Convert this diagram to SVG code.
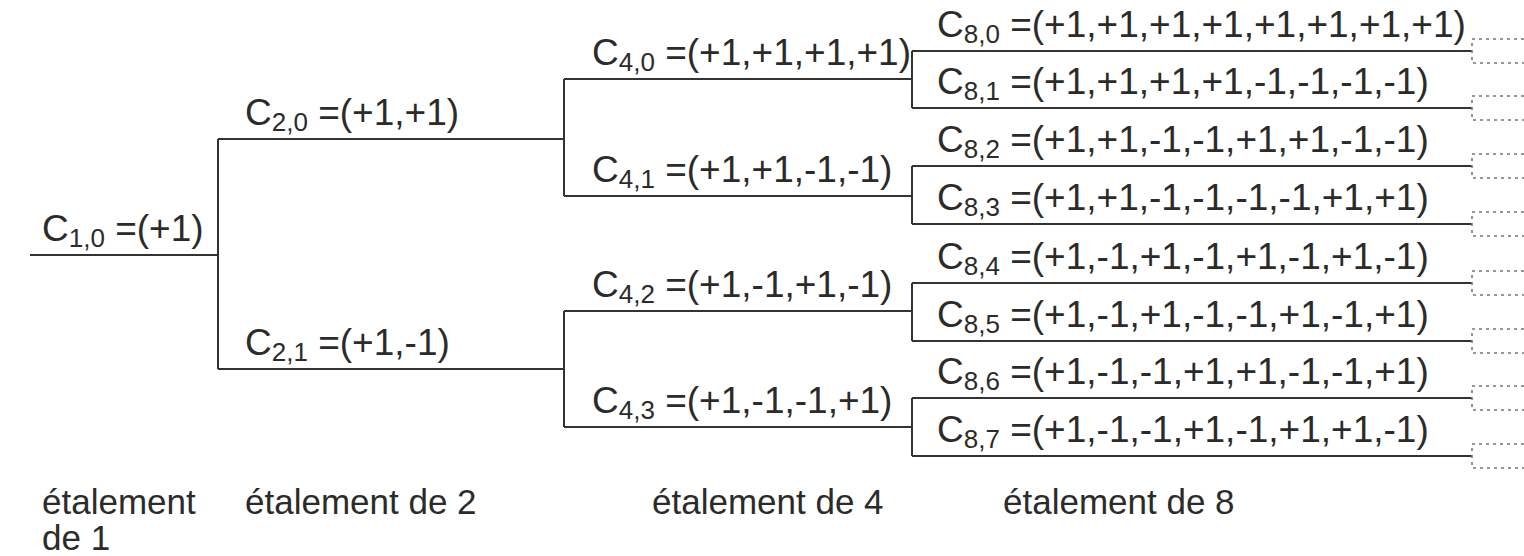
<svg xmlns="http://www.w3.org/2000/svg" width="1524" height="556" viewBox="0 0 1524 556">
<style>
.t{font-family:"Liberation Sans",Arial,sans-serif;font-size:37px;fill:#2b2b2b}
.s{font-size:26px}
.lv{font-family:"Liberation Sans",Arial,sans-serif;font-size:35px;fill:#2b2b2b}
.w{fill:none;stroke:#333;stroke-width:2}
.d{fill:none;stroke:#777;stroke-width:1.6;stroke-dasharray:3 4}
</style>
<rect width="1524" height="556" fill="#fff"/>
<g id="connectors">
<path class="w" d="M30,255H218M218,139V369M218,139H564M218,369H564M564,79V196M564,311V427M564,79H912M564,196H912M564,311H912M564,427H912M912,51V108M912,166V224M912,283V341M912,398V456M912,51H1472M912,108H1472M912,166H1472M912,224H1472M912,283H1472M912,341H1472M912,398H1472M912,456H1472"/>
<path class="d" d="M1524,39H1472V63H1524M1524,96H1472V120H1524M1524,154H1472V178H1524M1524,212H1472V236H1524M1524,271H1472V295H1524M1524,329H1472V353H1524M1524,386H1472V410H1524M1524,444H1472V468H1524"/>
</g>
<g id="c1_0"><text class="t" x="42" y="241">C<tspan class="s" dy="6">1,0</tspan><tspan dy="-6"> =(+1)</tspan></text></g>
<g id="c2_0"><text class="t" x="245" y="125">C<tspan class="s" dy="6">2,0</tspan><tspan dy="-6"> =(+1,+1)</tspan></text></g>
<g id="c2_1"><text class="t" x="245" y="355">C<tspan class="s" dy="6">2,1</tspan><tspan dy="-6"> =(+1,-1)</tspan></text></g>
<g id="c4_0"><text class="t" x="592" y="65">C<tspan class="s" dy="6">4,0</tspan><tspan dy="-6"> =(+1,+1,+1,+1)</tspan></text></g>
<g id="c4_1"><text class="t" x="592" y="182">C<tspan class="s" dy="6">4,1</tspan><tspan dy="-6"> =(+1,+1,-1,-1)</tspan></text></g>
<g id="c4_2"><text class="t" x="592" y="297">C<tspan class="s" dy="6">4,2</tspan><tspan dy="-6"> =(+1,-1,+1,-1)</tspan></text></g>
<g id="c4_3"><text class="t" x="592" y="413">C<tspan class="s" dy="6">4,3</tspan><tspan dy="-6"> =(+1,-1,-1,+1)</tspan></text></g>
<g id="c8_0"><text class="t" x="937" y="37">C<tspan class="s" dy="6">8,0</tspan><tspan dy="-6"> =(+1,+1,+1,+1,+1,+1,+1,+1)</tspan></text></g>
<g id="c8_1"><text class="t" x="937" y="94">C<tspan class="s" dy="6">8,1</tspan><tspan dy="-6"> =(+1,+1,+1,+1,-1,-1,-1,-1)</tspan></text></g>
<g id="c8_2"><text class="t" x="937" y="152">C<tspan class="s" dy="6">8,2</tspan><tspan dy="-6"> =(+1,+1,-1,-1,+1,+1,-1,-1)</tspan></text></g>
<g id="c8_3"><text class="t" x="937" y="210">C<tspan class="s" dy="6">8,3</tspan><tspan dy="-6"> =(+1,+1,-1,-1,-1,-1,+1,+1)</tspan></text></g>
<g id="c8_4"><text class="t" x="937" y="269">C<tspan class="s" dy="6">8,4</tspan><tspan dy="-6"> =(+1,-1,+1,-1,+1,-1,+1,-1)</tspan></text></g>
<g id="c8_5"><text class="t" x="937" y="327">C<tspan class="s" dy="6">8,5</tspan><tspan dy="-6"> =(+1,-1,+1,-1,-1,+1,-1,+1)</tspan></text></g>
<g id="c8_6"><text class="t" x="937" y="384">C<tspan class="s" dy="6">8,6</tspan><tspan dy="-6"> =(+1,-1,-1,+1,+1,-1,-1,+1)</tspan></text></g>
<g id="c8_7"><text class="t" x="937" y="442">C<tspan class="s" dy="6">8,7</tspan><tspan dy="-6"> =(+1,-1,-1,+1,-1,+1,+1,-1)</tspan></text></g>
<g id="levels">
<text class="lv" x="42" y="514">étalement</text>
<text class="lv" x="42" y="550">de 1</text>
<text class="lv" x="245" y="514">étalement de 2</text>
<text class="lv" x="652" y="514">étalement de 4</text>
<text class="lv" x="1003" y="514">étalement de 8</text>
</g>
</svg>
